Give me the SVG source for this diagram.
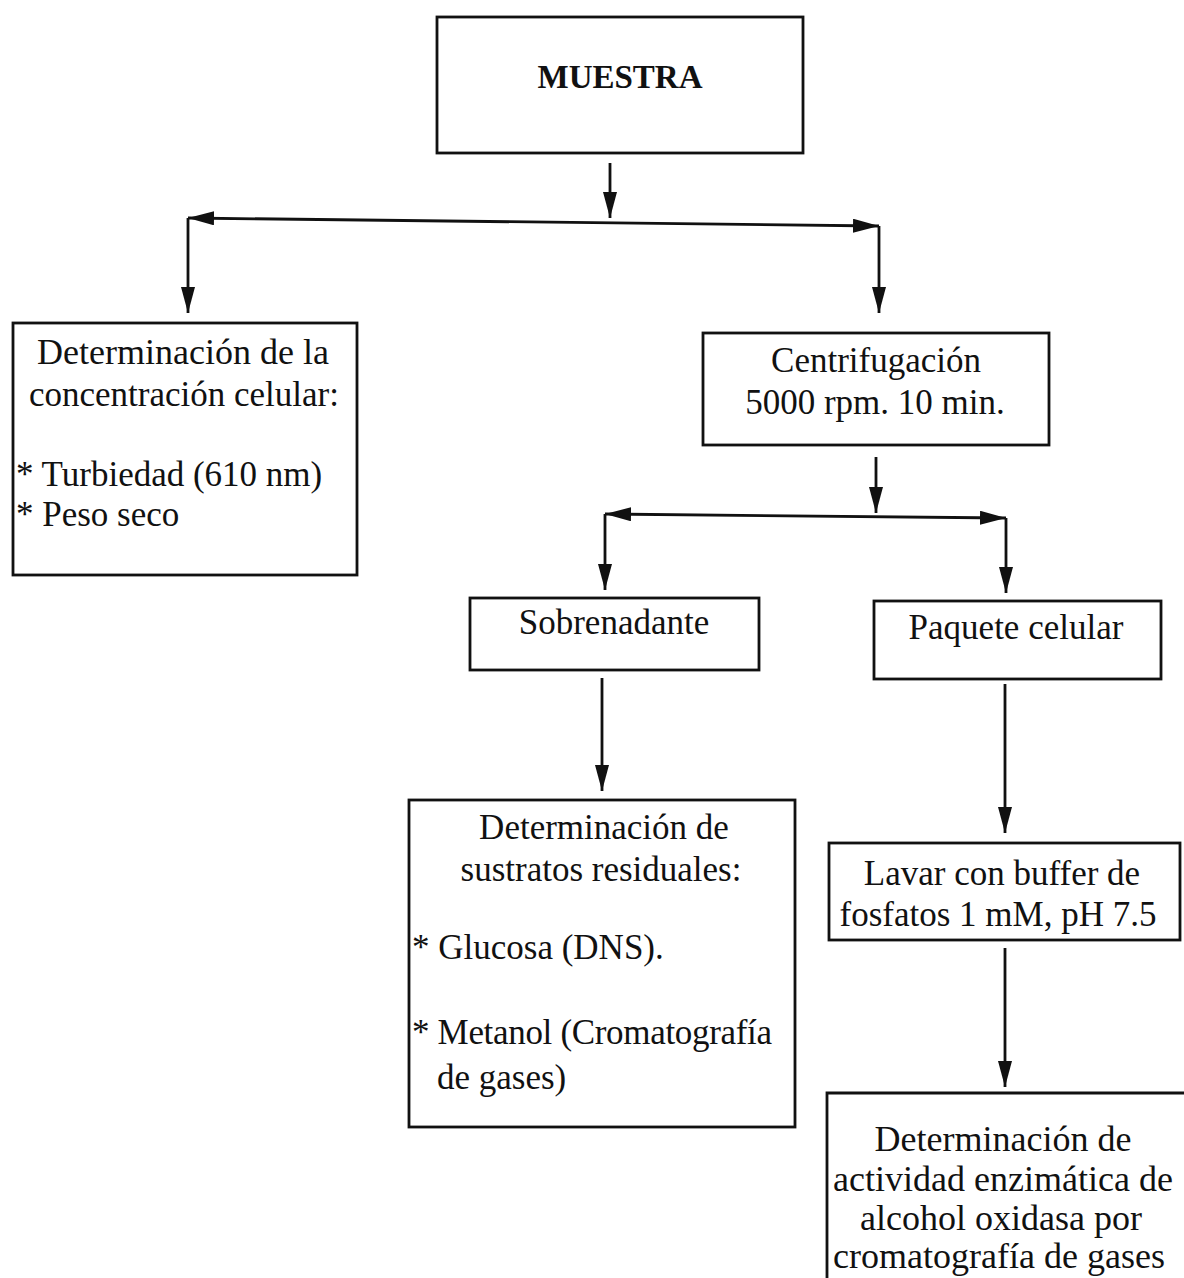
<svg xmlns="http://www.w3.org/2000/svg" width="1184" height="1278" viewBox="0 0 1184 1278">
<style>
  .box { fill: #ffffff; stroke: #111111; stroke-width: 2.8; }
  .conn { fill: none; stroke: #111111; stroke-width: 2.8; }
  .t { font-family: "Liberation Serif", "Times New Roman", serif; font-size: 35px; fill: #111111; }
  .c { text-anchor: middle; }
  .b { font-weight: bold; font-size: 33px; }
  .l { font-size: 36px; }
</style>
<defs>
  <marker id="arr" markerUnits="userSpaceOnUse" markerWidth="28" markerHeight="16" refX="26" refY="7" orient="auto-start-reverse">
    <path d="M0,0 L26,7 L0,14 Z" fill="#111111"/>
  </marker>
</defs>
<rect width="1184" height="1278" fill="#ffffff"/>

<g id="connectors">
  <line class="conn" x1="610" y1="163" x2="610" y2="218" marker-end="url(#arr)"/>
  <line class="conn" x1="188" y1="218" x2="879" y2="226" marker-start="url(#arr)" marker-end="url(#arr)"/>
  <line class="conn" x1="188" y1="218" x2="188" y2="313" marker-end="url(#arr)"/>
  <line class="conn" x1="879" y1="226" x2="879" y2="313" marker-end="url(#arr)"/>

  <line class="conn" x1="876" y1="457" x2="876" y2="513" marker-end="url(#arr)"/>
  <line class="conn" x1="605" y1="514" x2="1006" y2="518" marker-start="url(#arr)" marker-end="url(#arr)"/>
  <line class="conn" x1="605" y1="514" x2="605" y2="590" marker-end="url(#arr)"/>
  <line class="conn" x1="1006" y1="518" x2="1006" y2="593" marker-end="url(#arr)"/>

  <line class="conn" x1="602" y1="678" x2="602" y2="791" marker-end="url(#arr)"/>
  <line class="conn" x1="1005" y1="684" x2="1005" y2="833" marker-end="url(#arr)"/>
  <line class="conn" x1="1005" y1="948" x2="1005" y2="1087" marker-end="url(#arr)"/>
</g>

<g id="muestra">
  <rect class="box" x="437" y="17" width="366" height="136"/>
  <text class="t c b" x="620" y="88">MUESTRA</text>
</g>

<g id="concentracion">
  <rect class="box" x="13" y="323" width="344" height="252"/>
  <text class="t c l" x="183" y="364">Determinación de la</text>
  <text class="t c" x="184" y="406">concentración celular:</text>
  <text class="t" x="16" y="486">* Turbiedad (610 nm)</text>
  <text class="t" x="16" y="526">* Peso seco</text>
</g>

<g id="centrifugacion">
  <rect class="box" x="703" y="333" width="346" height="112"/>
  <text class="t c" x="876" y="372">Centrifugación</text>
  <text class="t c" x="875" y="414">5000 rpm. 10 min.</text>
</g>

<g id="sobrenadante">
  <rect class="box" x="470" y="598" width="289" height="72"/>
  <text class="t c" x="614" y="634">Sobrenadante</text>
</g>

<g id="paquete">
  <rect class="box" x="874" y="601" width="287" height="78"/>
  <text class="t c" x="1016" y="639">Paquete celular</text>
</g>

<g id="sustratos">
  <rect class="box" x="409" y="800" width="386" height="327"/>
  <text class="t c" x="604" y="839">Determinación de</text>
  <text class="t c" x="601" y="881">sustratos residuales:</text>
  <text class="t" x="412" y="959">* Glucosa (DNS).</text>
  <text class="t" x="412" y="1044" textLength="360">* Metanol (Cromatografía</text>
  <text class="t" x="437" y="1089">de gases)</text>
</g>

<g id="lavar">
  <rect class="box" x="829" y="843" width="351" height="97"/>
  <text class="t c" x="1002" y="885">Lavar con buffer de</text>
  <text class="t c" x="998" y="926">fosfatos 1 mM, pH 7.5</text>
</g>

<g id="actividad">
  <path class="conn" d="M827,1290 L827,1093 L1190,1093"/>
  <text class="t c l" x="1003" y="1151">Determinación de</text>
  <text class="t c l" x="1003" y="1191">actividad enzimática de</text>
  <text class="t c l" x="1001" y="1230">alcohol oxidasa por</text>
  <text class="t c l" x="999" y="1268">cromatografía de gases</text>
</g>
</svg>
